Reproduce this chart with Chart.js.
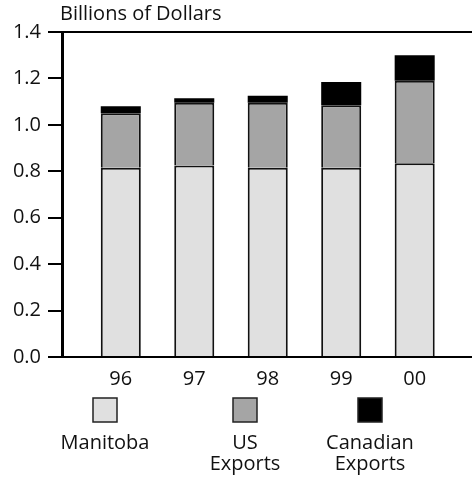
<!DOCTYPE html>
<html>
<head>
<meta charset="utf-8">
<script src="https://cdn.jsdelivr.net/npm/chart.js@4"></script>
<style>
  html, body { margin: 0; padding: 0; background: #fff; overflow: hidden; }
  #wrap { width: 472px; height: 477px; position: relative; }
</style>
</head>
<body>
<div id="wrap"><canvas id="chart"></canvas></div>
<script>
// years on the x axis and the labels printed under them
const years = [96, 97, 98, 99, 100];
const yearLabels = ['96', '97', '98', '99', '00'];

// billions of dollars, stacked
const manitoba = [0.815, 0.825, 0.815, 0.815, 0.835];
const usExports = [0.235, 0.27, 0.28, 0.27, 0.355];
const canadianExports = [0.03, 0.02, 0.03, 0.10, 0.11];

const FONT = 'Open Sans, sans-serif';
const FONT_SIZE = 20;

function points(values) {
    return years.map((x, i) => ({ x: x, y: values[i] }));
}

// draws the y unit label and the legend (box above, text below)
const extras = {
    id: 'extras',
    afterDraw(chart) {
        const ctx = chart.ctx;
        ctx.save();
        ctx.fillStyle = '#111';
        ctx.font = FONT_SIZE + 'px ' + FONT;
        ctx.textBaseline = 'middle';
        ctx.textAlign = 'left';
        ctx.fillText('Billions of Dollars', 60, 14);

        const centers = [105, 245, 370];
        chart.data.datasets.forEach((ds, i) => {
            const cx = centers[i];
            ctx.fillStyle = ds.backgroundColor;
            ctx.fillRect(cx - 12, 398, 24, 24);
            ctx.strokeStyle = '#222';
            ctx.lineWidth = 1.5;
            ctx.strokeRect(cx - 12, 398, 24, 24);
            ctx.fillStyle = '#111';
            ctx.textAlign = 'center';
            ctx.fillText(ds.legendText[0], cx, 443);
            if (ds.legendText[1]) ctx.fillText(ds.legendText[1], cx, 464);
        });
        ctx.restore();
    }
};

new Chart(document.getElementById('chart'), {
    type: 'bar',
    data: {
        datasets: [
            {
                label: 'Manitoba',
                legendText: ['Manitoba'],
                data: points(manitoba),
                backgroundColor: '#e0e0e0',
                borderColor: '#111',
                borderWidth: 2
            },
            {
                label: 'US Exports',
                legendText: ['US', 'Exports'],
                data: points(usExports),
                backgroundColor: '#a5a5a5',
                borderColor: '#111',
                borderWidth: 2
            },
            {
                label: 'Canadian Exports',
                legendText: ['Canadian', 'Exports'],
                data: points(canadianExports),
                backgroundColor: '#000',
                borderWidth: 0
            }
        ]
    },
    options: {
        responsive: true,
        maintainAspectRatio: false,
        animation: false,
        barPercentage: 0.545,
        categoryPercentage: 1,
        layout: { padding: { top: 32, right: 0, left: 0, bottom: 0 } },
        plugins: {
            legend: { display: false },
            tooltip: { enabled: false }
        },
        scales: {
            x: {
                type: 'linear',
                stacked: true,
                offset: false,
                min: 95.2,
                max: 100.78,
                afterBuildTicks: (scale) => {
                    scale.ticks = years.map(v => ({ value: v }));
                },
                afterFit: (scale) => { scale.height = 120; },
                grid: { offset: false, drawOnChartArea: false, drawTicks: false },
                border: { display: true, color: '#000', width: 2 },
                ticks: {
                    padding: 10,
                    color: '#111',
                    font: { size: FONT_SIZE, family: FONT },
                    callback: (v) => yearLabels[years.indexOf(v)]
                }
            },
            y: {
                stacked: true,
                min: 0,
                max: 1.4,
                afterFit: (scale) => { scale.width = 62; },
                grid: {
                    color: (c) => (c.tick && Math.abs(c.tick.value - 1.4) < 1e-6) ? '#000' : 'rgba(0,0,0,0)',
                    lineWidth: 2,
                    tickColor: '#000',
                    tickLength: 14,
                    drawTicks: true
                },
                border: { display: true, color: '#000', width: 3 },
                ticks: {
                    stepSize: 0.2,
                    padding: 7,
                    color: '#111',
                    font: { size: FONT_SIZE, family: FONT },
                    callback: (v) => v.toFixed(1)
                }
            }
        }
    },
    plugins: [extras]
});
</script>
</body>
</html>
